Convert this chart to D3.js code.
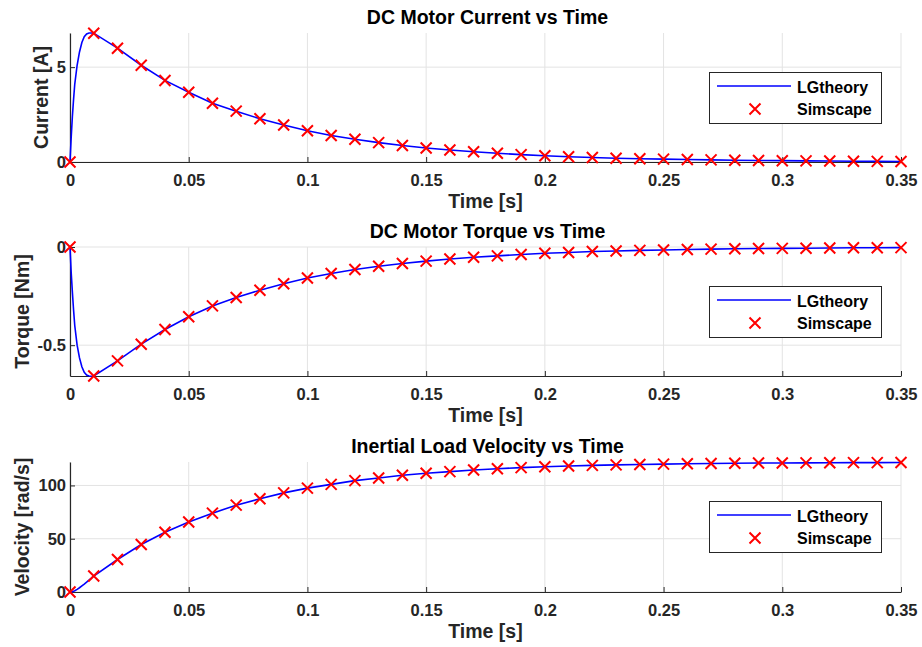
<!DOCTYPE html>
<html>
<head>
<meta charset="utf-8">
<script src="https://cdn.jsdelivr.net/npm/d3@7"></script>
<style>
  body { margin: 0; background: #fff; }
  text { font-family: "Liberation Sans", Arial, sans-serif; font-weight: bold; fill: #262626; }
</style>
</head>
<body>
<svg width="922" height="647"></svg>
<script>
// sample times of the Simscape run
var tSim = [0, 0.01, 0.02, 0.03, 0.04, 0.05, 0.06, 0.07, 0.08, 0.09,
            0.10, 0.11, 0.12, 0.13, 0.14, 0.15, 0.16, 0.17, 0.18, 0.19,
            0.20, 0.21, 0.22, 0.23, 0.24, 0.25, 0.26, 0.27, 0.28, 0.29,
            0.30, 0.31, 0.32, 0.33, 0.34, 0.35];

var currentSim = [0, 6.79, 6.0, 5.1, 4.3, 3.68, 3.1, 2.68, 2.28, 1.95,
                  1.65, 1.4, 1.2, 1.02, 0.87, 0.74, 0.63, 0.54, 0.46, 0.39,
                  0.33, 0.28, 0.24, 0.2, 0.17, 0.15, 0.13, 0.11, 0.09, 0.08,
                  0.07, 0.06, 0.05, 0.04, 0.035, 0.03];
var torqueSim = [0, -0.657, -0.58, -0.495, -0.42, -0.355, -0.3, -0.257, -0.22, -0.187,
                 -0.158, -0.135, -0.115, -0.098, -0.084, -0.072, -0.061, -0.052, -0.045, -0.038,
                 -0.032, -0.028, -0.023, -0.02, -0.017, -0.015, -0.013, -0.011, -0.009, -0.008,
                 -0.007, -0.006, -0.005, -0.004, -0.0035, -0.003];
var velocitySim = [0, 15, 30.5, 44.6, 56, 65.7, 74, 81.5, 87.5, 93,
                   97.5, 101, 104.5, 107, 109.5, 111.5, 113, 114.5, 115.7, 116.7,
                   117.5, 118.2, 118.8, 119.3, 119.7, 120, 120.3, 120.6, 120.8, 121,
                   121.1, 121.2, 121.3, 121.4, 121.45, 121.5];

// LGtheory curve: fine steps over the fast start, then the same 0.01 s grid
var tTheoryStart = [0, 0.0005, 0.001, 0.0015, 0.002, 0.003, 0.004, 0.005, 0.006, 0.007, 0.008, 0.009];
var currentTheoryStart = [0, 1.3, 2.4, 3.3, 4.1, 5.1, 5.8, 6.3, 6.6, 6.75, 6.8, 6.8];
var torqueTheoryStart = [0, -0.13, -0.23, -0.32, -0.4, -0.5, -0.565, -0.61, -0.638, -0.652, -0.657, -0.658];
var velocityTheoryStart = [0, 0.1, 0.3, 0.7, 1.2, 2.5, 4, 5.7, 7.4, 9.2, 11.1, 13];

var xTicks = [0, 0.05, 0.1, 0.15, 0.2, 0.25, 0.3, 0.35];
var titles = ['DC Motor Current vs Time', 'DC Motor Torque vs Time', 'Inertial Load Velocity vs Time'];
var yLabels = ['Current [A]', 'Torque [Nm]', 'Velocity [rad/s]'];
var yDomains = [[0, 6.8], [-0.657, 0], [0, 122]];
var yTicks = [[0, 5], [-0.5, 0], [0, 50, 100]];
var legendNames = ['LGtheory', 'Simscape'];

var svg = d3.select('svg');
var left = 70, right = 901;
var tops = [33, 247, 462], bottoms = [162, 376, 592];
var yLabelX = [41, 22, 22];

var x = d3.scaleLinear().domain([0, 0.35]).range([left, right]);

function drawPanel(k, theory, sim) {
  var y = d3.scaleLinear().domain(yDomains[k]).range([bottoms[k], tops[k]]);
  var g = svg.append('g');

  // grid
  g.selectAll('.vg').data(xTicks).enter().append('line')
    .attr('x1', d => x(d)).attr('x2', d => x(d))
    .attr('y1', tops[k]).attr('y2', bottoms[k])
    .attr('stroke', '#e3e3e3');
  g.selectAll('.hg').data(yTicks[k]).enter().append('line')
    .attr('x1', left).attr('x2', right)
    .attr('y1', d => y(d)).attr('y2', d => y(d))
    .attr('stroke', '#e3e3e3');

  // axes
  var xa = g.append('g').attr('transform', 'translate(0,' + bottoms[k] + ')')
    .call(d3.axisBottom(x).tickValues(xTicks).tickSizeInner(-5).tickSizeOuter(0).tickPadding(12)
      .tickFormat(d => String(+d.toFixed(2))));
  var ya = g.append('g').attr('transform', 'translate(' + left + ',0)')
    .call(d3.axisLeft(y).tickValues(yTicks[k]).tickSizeInner(-5).tickSizeOuter(0).tickPadding(4)
      .tickFormat(d => String(d)));
  [xa, ya].forEach(function(a) {
    a.select('.domain').attr('stroke', '#262626').attr('stroke-width', 1.2);
    a.selectAll('.tick line').attr('stroke', '#262626');
    a.selectAll('.tick text').attr('fill', '#262626').style('font-size', '16.5px')
      .style('font-family', '"Liberation Sans", Arial, sans-serif').style('font-weight', 'bold');
  });

  // titles and labels
  g.append('text').attr('x', (left + right) / 2 + 2).attr('y', tops[k] - 9)
    .attr('text-anchor', 'middle').style('font-size', '19.5px').style('fill', '#000').text(titles[k]);
  g.append('text').attr('x', (left + right) / 2).attr('y', bottoms[k] + 46)
    .attr('text-anchor', 'middle').style('font-size', '19.5px').text('Time [s]');
  g.append('text')
    .attr('transform', 'translate(' + yLabelX[k] + ',' + (tops[k] + bottoms[k]) / 2 + ') rotate(-90)')
    .attr('dy', '0.35em').attr('text-anchor', 'middle').style('font-size', '19.5px').text(yLabels[k]);

  // theory line
  var line = d3.line().x(d => x(d[0])).y(d => y(d[1]));
  g.append('path').datum(theory)
    .attr('d', line).attr('fill', 'none').attr('stroke', '#0000ff').attr('stroke-width', 1.6);

  // simscape markers
  var xs = 'M-5.5,-5.5L5.5,5.5M-5.5,5.5L5.5,-5.5';
  g.selectAll('.mk').data(sim).enter().append('path')
    .attr('transform', (d, i) => 'translate(' + x(tSim[i]) + ',' + y(d) + ')')
    .attr('d', xs).attr('stroke', '#ff0000').attr('stroke-width', 2).attr('fill', 'none');

  // legend
  var ly = tops[k];
  var lg = g.append('g');
  lg.append('rect').attr('x', 709.5).attr('y', ly + 39.5).attr('width', 172).attr('height', 51)
    .attr('fill', '#fff').attr('stroke', '#262626').attr('stroke-width', 1);
  lg.append('line').attr('x1', 717).attr('x2', 791).attr('y1', ly + 53).attr('y2', ly + 53)
    .attr('stroke', '#0000ff').attr('stroke-width', 1.6);
  lg.append('path').attr('transform', 'translate(755,' + (ly + 76) + ')')
    .attr('d', xs).attr('stroke', '#ff0000').attr('stroke-width', 2);
  lg.selectAll('.lt').data(legendNames).enter().append('text')
    .attr('x', 797).attr('y', (d, i) => ly + 60 + i * 22)
    .style('font-size', '16px').style('fill', '#000').text(d => d);
}

function theoryOf(startVals, simVals) {
  var pts = tTheoryStart.map((t, i) => [t, startVals[i]]);
  return pts.concat(tSim.slice(1).map((t, i) => [t, simVals[i + 1]]));
}

drawPanel(0, theoryOf(currentTheoryStart, currentSim), currentSim);
drawPanel(1, theoryOf(torqueTheoryStart, torqueSim), torqueSim);
drawPanel(2, theoryOf(velocityTheoryStart, velocitySim), velocitySim);
</script>
</body>
</html>
